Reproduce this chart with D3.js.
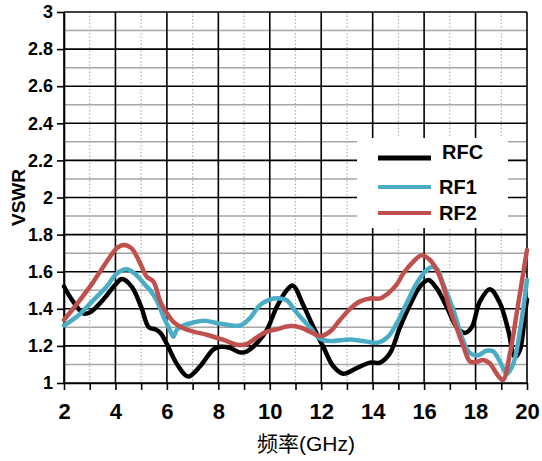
<!DOCTYPE html>
<html lang="en">
<head>
<meta charset="UTF-8">
<title>VSWR</title>
<style>
  body { margin: 0; background: #fff; }
  text { font-family: "Liberation Sans", Arial, "Noto Sans CJK SC", sans-serif; }
</style>
</head>
<body>
<script src="https://d3js.org/d3.v7.min.js"></script>
<div id="chart"></div>
<script>
// values
var seriesNames = ["RFC", "RF1", "RF2"];
var xTicks = [2, 4, 6, 8, 10, 12, 14, 16, 18, 20];
var yTicks = [1, 1.2, 1.4, 1.6, 1.8, 2, 2.2, 2.4, 2.6, 2.8, 3];

var rfcFreq = [2.0, 2.3, 2.75, 3.0, 3.53, 4.0, 4.25, 4.63, 5.0, 5.3, 5.55, 5.75, 6.0, 6.4, 6.82, 7.29, 7.8, 8.07, 8.45, 8.84, 9.1, 9.5, 9.88, 10.27, 10.66, 10.9, 11.3, 11.7, 12.08, 12.47, 12.86, 13.38, 13.9, 14.29, 14.67, 15.06, 15.45, 15.84, 16.17, 16.49, 16.88, 17.27, 17.59, 17.85, 18.17, 18.56, 18.95, 19.27, 19.53, 19.73, 19.92, 20.0];
var rfcVswr = [1.52, 1.45, 1.375, 1.38, 1.45, 1.53, 1.56, 1.52, 1.41, 1.30, 1.29, 1.27, 1.21, 1.10, 1.035, 1.09, 1.18, 1.195, 1.19, 1.165, 1.17, 1.215, 1.285, 1.41, 1.50, 1.525, 1.42, 1.30, 1.195, 1.09, 1.05, 1.08, 1.11, 1.11, 1.16, 1.30, 1.42, 1.52, 1.555, 1.51, 1.41, 1.30, 1.27, 1.30, 1.44, 1.505, 1.43, 1.285, 1.14, 1.18, 1.376, 1.45];

var rf1Freq = [2.0, 2.58, 3.1, 3.66, 4.05, 4.44, 4.83, 5.15, 5.35, 5.6, 5.87, 6.12, 6.25, 6.38, 6.64, 7.0, 7.44, 8.07, 8.84, 9.23, 9.62, 10.0, 10.4, 10.66, 10.98, 11.3, 11.56, 11.95, 12.34, 13.12, 13.77, 14.22, 14.6, 14.93, 15.32, 15.71, 16.04, 16.3, 16.5, 16.75, 17.14, 17.46, 17.79, 18.11, 18.43, 18.69, 18.95, 19.21, 19.47, 19.73, 20.0];
var rf1Vswr = [1.31, 1.367, 1.44, 1.52, 1.59, 1.613, 1.58, 1.53, 1.50, 1.447, 1.357, 1.285, 1.25, 1.285, 1.31, 1.325, 1.336, 1.32, 1.31, 1.35, 1.42, 1.45, 1.456, 1.447, 1.39, 1.34, 1.30, 1.24, 1.226, 1.235, 1.223, 1.218, 1.25, 1.32, 1.43, 1.537, 1.60, 1.625, 1.615, 1.53, 1.394, 1.25, 1.16, 1.15, 1.174, 1.17, 1.115, 1.05, 1.105, 1.285, 1.555];

var rf2Freq = [2.0, 2.58, 3.1, 3.66, 4.05, 4.31, 4.63, 4.96, 5.22, 5.48, 5.74, 6.0, 6.25, 6.64, 7.03, 7.55, 8.2, 8.78, 9.1, 9.5, 9.88, 10.27, 10.79, 11.18, 11.56, 11.95, 12.34, 12.73, 13.12, 13.51, 13.9, 14.29, 14.6, 14.93, 15.19, 15.58, 15.9, 16.23, 16.49, 16.75, 17.0, 17.27, 17.53, 17.79, 18.05, 18.3, 18.56, 18.82, 19.06, 19.34, 19.6, 20.0];
var rf2Vswr = [1.34, 1.44, 1.537, 1.654, 1.726, 1.744, 1.726, 1.645, 1.573, 1.546, 1.44, 1.376, 1.33, 1.295, 1.277, 1.26, 1.232, 1.205, 1.21, 1.246, 1.277, 1.29, 1.307, 1.30, 1.277, 1.253, 1.277, 1.34, 1.40, 1.44, 1.456, 1.456, 1.483, 1.53, 1.59, 1.654, 1.688, 1.663, 1.61, 1.52, 1.40, 1.295, 1.196, 1.115, 1.115, 1.124, 1.105, 1.05, 1.016, 1.16, 1.376, 1.717];

var colors = ["#000000", "#4bacc6", "#c0504d"];

var width = 542, height = 461;
var margin = {left: 64, right: 15, top: 12, bottom: 78};
var pw = width - margin.left - margin.right, ph = height - margin.top - margin.bottom;

var svg = d3.select("#chart").append("svg")
  .attr("width", width).attr("height", height);
var g = svg.append("g").attr("transform", "translate(" + margin.left + "," + margin.top + ")");

var xScale = d3.scaleLinear().domain([2, 20]).range([0, pw]);
var yScale = d3.scaleLinear().domain([1, 3]).range([ph, 0]);

// minor gridlines
g.selectAll(".hminor").data(d3.range(1.1, 3, 0.2)).enter().append("line")
  .attr("x1", 0).attr("x2", pw)
  .attr("y1", function(d){ return yScale(d) }).attr("y2", function(d){ return yScale(d) })
  .attr("stroke", "#a6a6a6").attr("stroke-width", 1.5)
g.selectAll(".vminor").data(d3.range(3, 20, 2)).enter().append("line")
  .attr("y1", 0).attr("y2", ph)
  .attr("x1", function(d){ return xScale(d) }).attr("x2", function(d){ return xScale(d) })
  .attr("stroke", "#b0b0b0").attr("stroke-width", 1.2).attr("stroke-dasharray", "1.5,2")

// major gridlines
g.selectAll(".hmajor").data(yTicks).enter().append("line")
  .attr("x1", 0).attr("x2", pw)
  .attr("y1", function(d){ return yScale(d) }).attr("y2", function(d){ return yScale(d) })
  .attr("stroke", "#000").attr("stroke-width", 1.6)
g.selectAll(".vmajor").data(xTicks).enter().append("line")
  .attr("y1", 0).attr("y2", ph)
  .attr("x1", function(d){ return xScale(d) }).attr("x2", function(d){ return xScale(d) })
  .attr("stroke", "#000").attr("stroke-width", 1.6)

// axes
var xAxis = d3.axisBottom(xScale).tickValues(xTicks).tickSize(7).tickSizeOuter(0).tickPadding(13);
var xMinor = d3.axisBottom(xScale).tickValues(d3.range(3, 20, 2)).tickSize(7).tickFormat("");
var yAxis = d3.axisLeft(yScale).tickValues(yTicks).tickSize(7).tickSizeOuter(0).tickPadding(4)
  .tickFormat(function(d){ return d3.format("~g")(d) });

g.append("g").attr("class", "minor").attr("transform", "translate(0," + ph + ")").call(xMinor);
var xg = g.append("g").attr("transform", "translate(0," + ph + ")").call(xAxis);
var yg = g.append("g").call(yAxis);

g.selectAll(".domain").attr("stroke", "#000").attr("stroke-width", 1.6);
g.selectAll(".tick line").attr("stroke", "#000").attr("stroke-width", 1.6);
g.selectAll(".minor .domain").remove();
xg.selectAll("text").style("font-size", "22px").style("font-weight", "bold").attr("fill", "#000");
yg.selectAll("text").style("font-size", "18px").style("font-weight", "bold").attr("fill", "#000");

// curves
var allFreq = [rfcFreq, rf1Freq, rf2Freq];
var allVswr = [rfcVswr, rf1Vswr, rf2Vswr];
var line = d3.line()
  .x(function(d){ return xScale(d[0]) })
  .y(function(d){ return yScale(d[1]) })
  .curve(d3.curveCatmullRom.alpha(0.5));

seriesNames.forEach(function(name, i){
  var pts = allFreq[i].map(function(f, j){ return [f, allVswr[i][j]] });
  g.append("path").datum(pts)
    .attr("d", line)
    .attr("fill", "none")
    .attr("stroke", colors[i])
    .attr("stroke-width", 4.5)
    .attr("stroke-linejoin", "round")
    .attr("stroke-linecap", "round");
});

// legend
var lg = svg.append("g").attr("transform", "translate(357,138)");
lg.append("rect").attr("width", 151).attr("height", 90).attr("fill", "#fff");
var legY = [20, 49, 75];
var legX = [85, 82, 82];
var legDy = [1, 7, 7];
seriesNames.forEach(function(name, i){
  lg.append("line").attr("x1", 21).attr("x2", 74)
    .attr("y1", legY[i]).attr("y2", legY[i])
    .attr("stroke", colors[i]).attr("stroke-width", i == 0 ? 5 : 4);
  lg.append("text").attr("x", legX[i]).attr("y", legY[i] + legDy[i])
    .style("font-size", "20px").style("font-weight", "bold")
    .text(name);
});

// axis titles
svg.append("text")
  .attr("transform", "translate(25," + (margin.top + ph / 2) + ") rotate(-90)")
  .style("text-anchor", "middle").style("font-size", "19px").style("font-weight", "bold")
  .text("VSWR");

svg.append("text")
  .attr("x", 306).attr("y", 451)
  .style("text-anchor", "middle").style("font-size", "21px")
  .text("频率(GHz)");
</script>
</body>
</html>
